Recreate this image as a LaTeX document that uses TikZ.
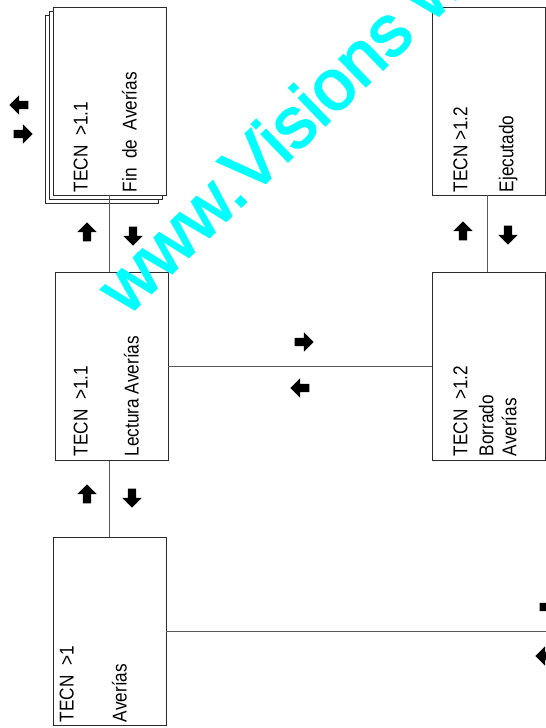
\documentclass[tikz,border=0pt]{standalone}
\usepackage{fontspec}
\newfontfamily\etroite[FakeStretch=0.86]{Liberation Sans}
\newfontfamily\filigrane[FakeBold=2.5]{Liberation Sans}
\usetikzlibrary{positioning,shapes.arrows,shadows}
\definecolor{traitBoite}{HTML}{2B2B2B}
\definecolor{traitLien}{HTML}{5A5A5A}
\definecolor{cyanFiligrane}{HTML}{00FFFF}
\tikzset{
  boite/.style={
    rectangle, draw=traitBoite, fill=white, line width=0.9pt,
    minimum width=113pt, minimum height=188pt, inner sep=0pt},
  boitePile/.style={boite,
    double copy shadow={shadow xshift=-4pt, shadow yshift=-4pt,
      draw=traitBoite, fill=white, line width=0.9pt}},
  texte/.style={rotate=90, anchor=base west, inner sep=0pt,
    font=\etroite\fontsize{20}{24}\selectfont},
  lien/.style={draw=traitLien, line width=0.9pt},
  sens/.style={single arrow, fill=black, draw=none,
    inner xsep=0pt, inner ysep=4pt, minimum width=0pt,
    minimum height=19pt,
    single arrow head extend=5.5pt, single arrow head indent=0pt},
  versHaut/.style={sens, rotate=90},
  versBas/.style={sens, rotate=-90},
  versDroite/.style={sens},
  versGauche/.style={sens, rotate=180},
  filigraneUrl/.style={rotate=44, anchor=base west, inner sep=0pt,
    text=cyanFiligrane, font=\filigrane\fontsize{72}{80}\selectfont}
}

\begin{document}
\begin{tikzpicture}[x=1pt, y=1pt]

  \clip (0,0) rectangle (546,728);

  % --- Colonne gauche
  \node[boitePile] (fin) at (109.5,627) {};
  \node[boite, below=77pt of fin, xshift=2pt] (lect) {};
  \node[boite, below=76pt of lect, xshift=-2pt] (ave) {};

  % --- Colonne droite
  \node[boite, right=266pt of fin] (ejec) {};
  \node[boite, below=77pt of ejec] (borr) {};

  % --- Textes des boites
  \node[texte] (fin-l1) at ([xshift=35pt, yshift=3pt]fin.south west) {TECN\ \ >1.1};
  \node[texte] (fin-l2) at ([xshift=84pt, yshift=3pt]fin.south west) {Fin\ \ de\ \ Averías};
  \node[texte] (lect-l1) at ([xshift=33pt, yshift=5pt]lect.south west) {TECN\ \ >1.1};
  \node[texte] (lect-l2) at ([xshift=84pt, yshift=5pt]lect.south west) {Lectura Averías};
  \node[texte] (ave-l1) at ([xshift=21pt, yshift=4pt]ave.south west) {TECN\ \ >1};
  \node[texte] (ave-l2) at ([xshift=74pt, yshift=4pt]ave.south west) {Averías};
  \node[texte] (ejec-l1) at ([xshift=35pt, yshift=3pt]ejec.south west) {TECN >1.2};
  \node[texte] (ejec-l2) at ([xshift=81pt, yshift=3pt]ejec.south west) {Ejecutado};
  \node[texte] (borr-l1) at ([xshift=35pt, yshift=5pt]borr.south west) {TECN\ \ >1.2};
  \node[texte] (borr-l2) at ([xshift=61pt, yshift=5pt]borr.south west) {Borrado};
  \node[texte] (borr-l3) at ([xshift=84pt, yshift=5pt]borr.south west) {Averías};

  % --- Liaisons
  \coordinate (sortie) at (546,98);
  \draw[lien] (fin.south) -- (fin.south |- lect.north);
  \draw[lien] (ave.north) -- (ave.north |- lect.south);
  \draw[lien] (lect.east) -- (lect.east -| borr.west);
  \draw[lien] (ave.east) -- (ave.east -| sortie);
  \draw[lien] ([xshift=-2pt]ejec.south) -- ([xshift=-2pt]borr.north);

  % --- Sens des echanges
  \node[versGauche] (g0) at (21,623) {};
  \node[versDroite] (d0) at (21,594) {};
  \node[versHaut] (h1) at (87,494) {};
  \node[versBas] (b1) at (133,494) {};
  \node[versHaut] (h2) at (87,232) {};
  \node[versBas] (b2) at (132,232) {};
  \node[versHaut] (h3) at (463,495) {};
  \node[versBas] (b3) at (508,495) {};
  \node[versDroite] (d1) at (302,386) {};
  \node[versGauche] (g1) at (302,340) {};
  \node[versDroite] (d2) at (547,121) {};
  \node[versGauche] (g2) at (547,72) {};

  % --- Filigrane
  \node[filigraneUrl] (url) at (127,411) {www.Visions w};

\end{tikzpicture}
\end{document}
